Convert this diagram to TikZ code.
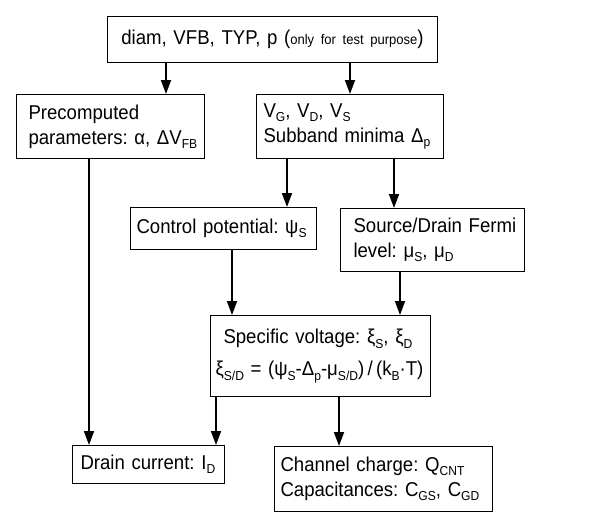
\documentclass[tikz,border=0pt]{standalone}
\usepackage{fontspec}
\setmainfont{Liberation Sans}[FakeStretch=0.93]
\usetikzlibrary{arrows.meta}
\newcommand{\sbs}[1]{\raisebox{-0.22em}{\fontsize{13}{13}\selectfont #1}}
\tikzset{
  box/.style={draw, line width=1pt, anchor=north west, align=left, inner ysep=0pt,
    font=\fontsize{20}{25}\selectfont\frenchspacing},
  arr/.style={line width=1.8pt, -{Triangle[length=14pt,width=10pt]}}
}
\hbadness=10000 \hfuzz=100pt
\begin{document}
\begin{tikzpicture}[x=1pt,y=-1pt]
\useasboundingbox (0,0) rectangle (592,514);
\node[box, align=center, inner xsep=2pt, text width=326pt, minimum height=46pt] (inputs) at (107,16) {\mbox{diam, VFB, TYP, p ({\fontsize{14}{14}\selectfont only for test purpose})}};
\node[box, inner xsep=12pt, text width=164pt, minimum height=64pt] (precomp) at (16,94) {\mbox{Precomputed}\\ \mbox{parameters: α, ΔV\sbs{FB}}};
\node[box, inner xsep=7pt, text width=173pt, minimum height=64pt] (bias) at (256,94) {\mbox{V\sbs{G}, V\sbs{D}, V\sbs{S}}\\ \mbox{Subband minima Δ\sbs{p}}};
\node[box, inner xsep=6pt, text width=174pt, minimum height=42pt] (control) at (130,207) {\mbox{Control potential: ψ\sbs{S}}};
\node[box, inner xsep=13pt, text width=158pt, minimum height=63pt] (fermi) at (340,208) {\mbox{Source/Drain Fermi}\\ \mbox{level: μ\sbs{S}, μ\sbs{D}}};
\node[box, inner xsep=5pt, text width=210pt, minimum height=81pt] (specific) at (210,315) {\mbox{\hspace*{8pt}Specific voltage: ξ\sbs{S}, ξ\sbs{D}}\\[7pt] \mbox{ξ\sbs{S/D} = (ψ\sbs{S}-Δ\sbs{p}-μ\sbs{S/D})\,/\,(k\sbs{B}·T)}};
\node[box, inner xsep=8pt, text width=136pt, minimum height=38pt] (current) at (72,445) {\mbox{Drain current: I\sbs{D}}};
\node[box, inner xsep=6pt, text width=206pt, minimum height=65pt] (charge) at (274,446) {\mbox{Channel charge: Q\sbs{CNT}}\\ \mbox{Capacitances: C\sbs{GS}, C\sbs{GD}}};
% connections
\draw[arr] (inputs.south -| 166,0) -- (precomp.north -| 166,0);
\draw[arr] (inputs.south -| 350,0) -- (bias.north -| 350,0);
\draw[arr] (bias.south -| 287,0) -- (control.north -| 287,0);
\draw[arr] (bias.south -| 394,0) -- (fermi.north -| 394,0);
\draw[arr] (control.south -| 232,0) -- (specific.north -| 232,0);
\draw[arr] (fermi.south -| 400,0) -- (specific.north -| 400,0);
\draw[arr] (precomp.south -| 89,0) -- (current.north -| 89,0);
\draw[arr] (specific.south -| 216,0) -- (current.north -| 216,0);
\draw[arr] (specific.south -| 339,0) -- (charge.north -| 339,0);
\end{tikzpicture}
\end{document}
